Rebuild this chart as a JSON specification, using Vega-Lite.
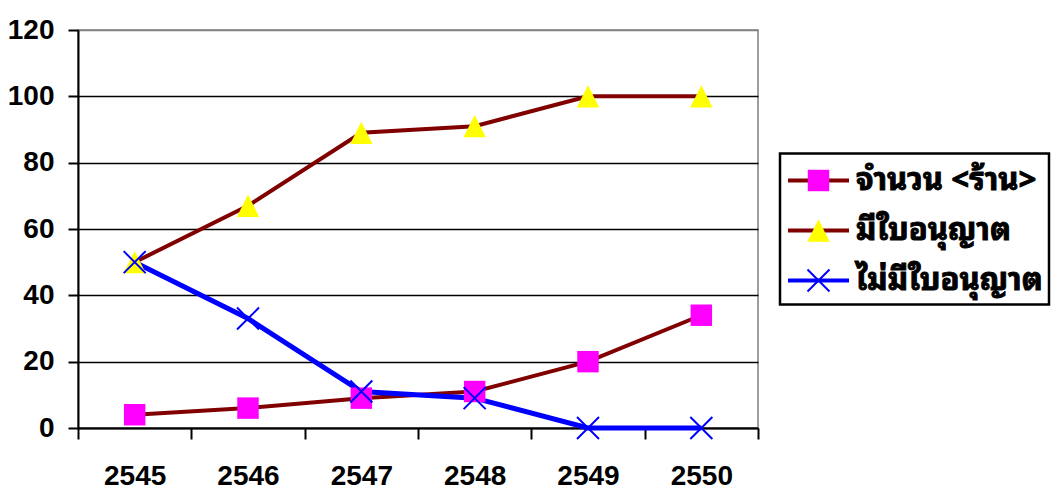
{
  "$schema": "https://vega.github.io/schema/vega-lite/v6.json",
  "background": "white",
  "padding": {"left": 6, "top": 15, "right": 0, "bottom": 0},
  "config": {"view": {"stroke": null}, "font": "Liberation Sans"},
  "datasets": {
    "main": [
      {"year": "2545", "series": "จำนวน <ร้าน>", "value": 4},
      {"year": "2546", "series": "จำนวน <ร้าน>", "value": 6},
      {"year": "2547", "series": "จำนวน <ร้าน>", "value": 9},
      {"year": "2548", "series": "จำนวน <ร้าน>", "value": 11},
      {"year": "2549", "series": "จำนวน <ร้าน>", "value": 20},
      {"year": "2550", "series": "จำนวน <ร้าน>", "value": 34},
      {"year": "2545", "series": "มีใบอนุญาต", "value": 50},
      {"year": "2546", "series": "มีใบอนุญาต", "value": 67},
      {"year": "2547", "series": "มีใบอนุญาต", "value": 89},
      {"year": "2548", "series": "มีใบอนุญาต", "value": 91},
      {"year": "2549", "series": "มีใบอนุญาต", "value": 100},
      {"year": "2550", "series": "มีใบอนุญาต", "value": 100},
      {"year": "2545", "series": "ไม่มีใบอนุญาต", "value": 50},
      {"year": "2546", "series": "ไม่มีใบอนุญาต", "value": 33},
      {"year": "2547", "series": "ไม่มีใบอนุญาต", "value": 11},
      {"year": "2548", "series": "ไม่มีใบอนุญาต", "value": 9},
      {"year": "2549", "series": "ไม่มีใบอนุญาต", "value": 0},
      {"year": "2550", "series": "ไม่มีใบอนุญาต", "value": 0}
    ],
    "legend": [
      {"series": "จำนวน <ร้าน>"},
      {"series": "มีใบอนุญาต"},
      {"series": "ไม่มีใบอนุญาต"}
    ]
  },
  "spacing": 22,
  "center": true,
  "bounds": "flush",
  "hconcat": [
    {
      "width": 680,
      "height": 398,
      "data": {"name": "main"},
      "view": {"stroke": "#808080", "strokeWidth": 1.5},
      "encoding": {
        "x": {
          "field": "year", "type": "ordinal",
          "scale": {"type": "band", "paddingInner": 0, "paddingOuter": 0},
          "axis": {
            "title": null, "labelAngle": 0, "tickBand": "extent", "grid": false,
            "domainColor": "black", "domainWidth": 2,
            "tickColor": "black", "tickWidth": 2, "tickSize": 11,
            "labelFont": "Liberation Sans", "labelFontSize": 28, "labelFontWeight": "bold",
            "labelColor": "black", "labelPadding": 23
          }
        },
        "y": {
          "field": "value", "type": "quantitative",
          "scale": {"domain": [0, 120], "nice": false},
          "axis": {
            "title": null, "values": [0, 20, 40, 60, 80, 100, 120],
            "grid": true,
            "gridColor": {"condition": {"test": "datum.value == 120", "value": "#808080"}, "value": "black"},
            "gridWidth": 1.5,
            "domainColor": "black", "domainWidth": 2,
            "tickColor": "black", "tickWidth": 2, "tickSize": 10,
            "labelFont": "Liberation Sans", "labelFontSize": 28, "labelFontWeight": "bold",
            "labelColor": "black", "labelPadding": 14
          }
        }
      },
      "layer": [
        {
          "transform": [{"filter": "datum.series != 'ไม่มีใบอนุญาต'"}],
          "mark": {"type": "line", "strokeWidth": 4, "color": "#800000"},
          "encoding": {"detail": {"field": "series"}}
        },
        {
          "transform": [{"filter": "datum.series == 'ไม่มีใบอนุญาต'"}],
          "mark": {"type": "line", "strokeWidth": 5, "color": "#0000FF"}
        },
        {
          "transform": [{"filter": "datum.series == 'จำนวน <ร้าน>'"}],
          "mark": {"type": "point", "shape": "square", "filled": true, "size": 460, "color": "#FF00FF", "opacity": 1}
        },
        {
          "transform": [{"filter": "datum.series == 'มีใบอนุญาต'"}],
          "mark": {"type": "point", "shape": "M0,-1L1,1L-1,1Z", "filled": true, "size": 500, "color": "#FFFF00", "opacity": 1}
        },
        {
          "transform": [{"filter": "datum.series == 'ไม่มีใบอนุญาต'"}],
          "mark": {"type": "point", "shape": "M-1,-1L1,1M-1,1L1,-1", "filled": false, "size": 484, "color": "#0000FF", "strokeWidth": 2, "opacity": 1}
        }
      ]
    },
    {
      "width": 269,
      "height": 151,
      "data": {"name": "legend"},
      "view": {"stroke": "black", "strokeWidth": 2.5},
      "encoding": {
        "y": {
          "field": "series", "type": "nominal",
          "sort": ["จำนวน <ร้าน>", "มีใบอนุญาต", "ไม่มีใบอนุญาต"],
          "scale": {"type": "point", "range": [27, 127], "padding": 0},
          "axis": null
        }
      },
      "layer": [
        {
          "mark": {"type": "rule", "strokeWidth": 4},
          "encoding": {
            "x": {"datum": 0, "type": "quantitative", "scale": {"domain": [0, 1], "range": [8, 69]}, "axis": null},
            "x2": {"datum": 1},
            "stroke": {
              "field": "series", "type": "nominal",
              "scale": {"domain": ["จำนวน <ร้าน>", "มีใบอนุญาต", "ไม่มีใบอนุญาต"], "range": ["#800000", "#800000", "#0000FF"]},
              "legend": null
            }
          }
        },
        {
          "transform": [{"filter": "datum.series == 'จำนวน <ร้าน>'"}],
          "mark": {"type": "point", "shape": "square", "filled": true, "size": 460, "color": "#FF00FF", "opacity": 1},
          "encoding": {"x": {"datum": 0.5, "type": "quantitative"}}
        },
        {
          "transform": [{"filter": "datum.series == 'มีใบอนุญาต'"}],
          "mark": {"type": "point", "shape": "M0,-1L1,1L-1,1Z", "filled": true, "size": 500, "color": "#FFFF00", "opacity": 1},
          "encoding": {"x": {"datum": 0.5, "type": "quantitative"}}
        },
        {
          "transform": [{"filter": "datum.series == 'ไม่มีใบอนุญาต'"}],
          "mark": {"type": "point", "shape": "M-1,-1L1,1M-1,1L1,-1", "filled": false, "size": 484, "color": "#0000FF", "strokeWidth": 2, "opacity": 1},
          "encoding": {"x": {"datum": 0.5, "type": "quantitative"}}
        },
        {
          "mark": {"type": "text", "align": "left", "baseline": "middle", "dx": 7, "fontSize": 31, "fontWeight": "bold", "font": "Noto Sans Thai Looped, Noto Sans Thai, Loma, Garuda, Noto Sans", "color": "black", "stroke": "black", "strokeWidth": 0.9},
          "encoding": {
            "x": {"datum": 1, "type": "quantitative"},
            "text": {"field": "series"}
          }
        }
      ]
    }
  ]
}
